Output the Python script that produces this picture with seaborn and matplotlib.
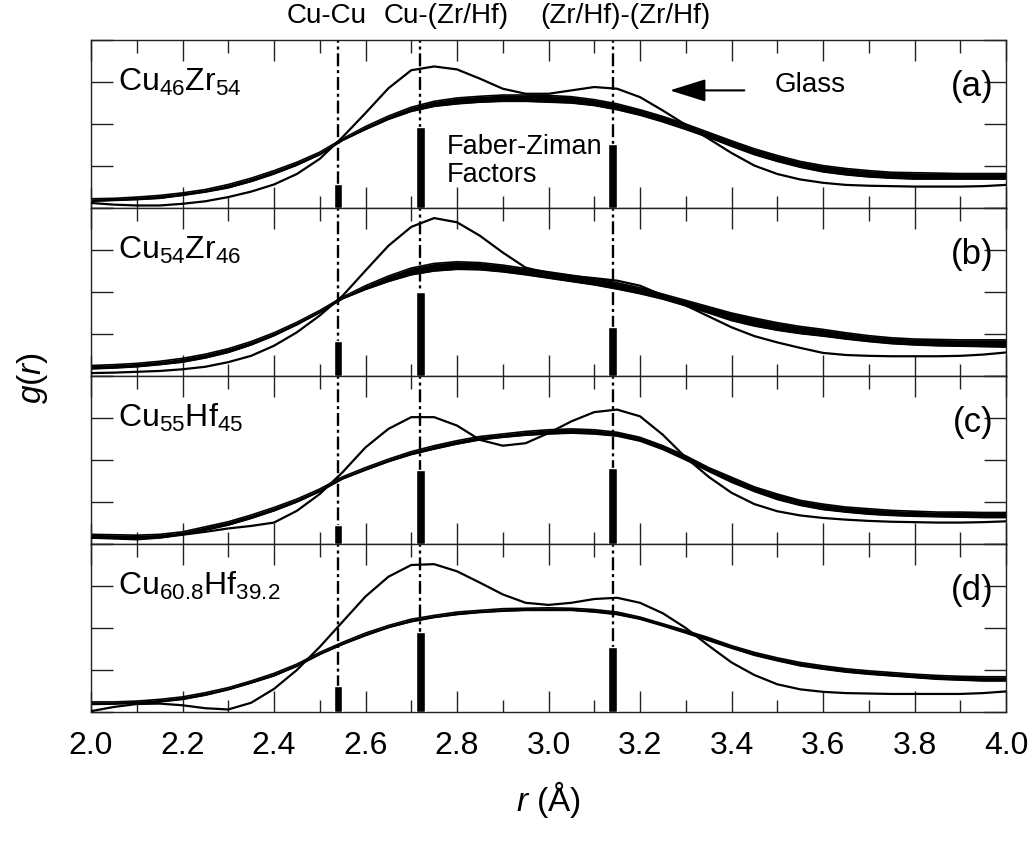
import numpy as np
import pandas as pd
import matplotlib
matplotlib.use("Agg")
import matplotlib.pyplot as plt
import seaborn as sns

# ---------------- data ----------------
r_grid = np.linspace(2.0, 4.0, 41)          # sample positions (0.05 A step)

pair_pos = [2.54, 2.72, 3.14]               # Cu-Cu, Cu-(Zr/Hf), (Zr/Hf)-(Zr/Hf)
top_labels = ["Cu-Cu", "Cu-(Zr/Hf)", "(Zr/Hf)-(Zr/Hf)"]
panel_tags = ["(a)", "(b)", "(c)", "(d)"]
compositions = [r"Cu$_{46}$Zr$_{54}$", r"Cu$_{54}$Zr$_{46}$",
                r"Cu$_{55}$Hf$_{45}$", r"Cu$_{60.8}$Hf$_{39.2}$"]

# Faber-Ziman factors (bar heights, panel units)
fz_a = [0.58, 1.92, 1.53]
fz_b = [0.84, 1.99, 1.17]
fz_c = [0.45, 1.77, 1.82]
fz_d = [0.61, 1.90, 1.54]

# crystal g(r) (thin line)
cry_a = [0.12, 0.08, 0.06, 0.06, 0.10, 0.16, 0.26, 0.39, 0.56, 0.81, 1.17, 1.69, 2.26, 2.85,
         3.28, 3.37, 3.30, 3.08, 2.84, 2.72, 2.72, 2.80, 2.88, 2.84, 2.64, 2.32, 1.98, 1.65,
         1.31, 1.01, 0.81, 0.68, 0.60, 0.55, 0.53, 0.52, 0.51, 0.51, 0.51, 0.52, 0.55]
cry_b = [0.07, 0.08, 0.10, 0.12, 0.16, 0.22, 0.33, 0.48, 0.72, 1.04, 1.44, 1.91, 2.51, 3.10,
         3.55, 3.76, 3.66, 3.34, 2.94, 2.58, 2.45, 2.38, 2.33, 2.27, 2.15, 1.92, 1.68, 1.42,
         1.16, 0.95, 0.80, 0.67, 0.55, 0.50, 0.48, 0.47, 0.47, 0.47, 0.48, 0.51, 0.56]
cry_c = [0.15, 0.13, 0.11, 0.15, 0.22, 0.29, 0.37, 0.43, 0.51, 0.79, 1.19, 1.71, 2.30, 2.74,
         3.02, 3.02, 2.82, 2.48, 2.34, 2.40, 2.64, 2.92, 3.14, 3.20, 3.04, 2.60, 2.06, 1.60,
         1.22, 0.95, 0.78, 0.68, 0.62, 0.58, 0.55, 0.53, 0.52, 0.51, 0.51, 0.52, 0.54]
cry_d = [0.02, 0.12, 0.19, 0.20, 0.16, 0.09, 0.06, 0.22, 0.55, 1.00, 1.55, 2.15, 2.75, 3.22,
         3.50, 3.52, 3.35, 3.08, 2.80, 2.60, 2.55, 2.60, 2.69, 2.72, 2.60, 2.35, 2.00, 1.58,
         1.18, 0.88, 0.66, 0.54, 0.48, 0.45, 0.44, 0.43, 0.43, 0.43, 0.43, 0.45, 0.49]

# glass g(r) bundle: upper and lower edges
glass_hi_a = [0.22, 0.23, 0.26, 0.30, 0.36, 0.44, 0.56, 0.71, 0.89, 1.09, 1.33, 1.65, 1.94, 2.19,
              2.40, 2.54, 2.62, 2.66, 2.69, 2.69, 2.68, 2.65, 2.58, 2.48, 2.34, 2.18, 2.00, 1.80,
              1.60, 1.41, 1.25, 1.11, 1.01, 0.94, 0.89, 0.85, 0.84, 0.83, 0.82, 0.82, 0.82]
glass_lo_a = [0.16, 0.18, 0.20, 0.23, 0.30, 0.38, 0.48, 0.63, 0.81, 1.02, 1.27, 1.61, 1.87, 2.11,
              2.30, 2.42, 2.48, 2.52, 2.54, 2.54, 2.52, 2.50, 2.44, 2.34, 2.21, 2.05, 1.87, 1.68,
              1.47, 1.27, 1.11, 0.97, 0.86, 0.79, 0.74, 0.71, 0.69, 0.69, 0.69, 0.69, 0.69]
glass_hi_b = [0.25, 0.27, 0.30, 0.35, 0.42, 0.52, 0.65, 0.82, 1.03, 1.28, 1.56, 1.88, 2.15, 2.38,
              2.57, 2.68, 2.72, 2.70, 2.64, 2.56, 2.48, 2.40, 2.32, 2.22, 2.10, 1.95, 1.80, 1.65,
              1.50, 1.38, 1.27, 1.18, 1.11, 1.03, 0.96, 0.91, 0.88, 0.87, 0.86, 0.86, 0.86]
glass_lo_b = [0.17, 0.19, 0.22, 0.27, 0.33, 0.43, 0.56, 0.74, 0.96, 1.22, 1.51, 1.84, 2.06, 2.25,
              2.41, 2.50, 2.54, 2.53, 2.48, 2.41, 2.33, 2.25, 2.17, 2.07, 1.96, 1.83, 1.67, 1.50,
              1.32, 1.19, 1.09, 1.01, 0.95, 0.88, 0.82, 0.77, 0.74, 0.72, 0.71, 0.70, 0.69]
glass_hi_c = [0.23, 0.22, 0.21, 0.23, 0.29, 0.41, 0.53, 0.69, 0.87, 1.07, 1.31, 1.60, 1.82, 2.02,
              2.20, 2.34, 2.46, 2.56, 2.62, 2.68, 2.72, 2.74, 2.72, 2.66, 2.54, 2.34, 2.10, 1.82,
              1.59, 1.36, 1.19, 1.04, 0.95, 0.88, 0.84, 0.80, 0.78, 0.76, 0.76, 0.75, 0.75]
glass_lo_c = [0.15, 0.14, 0.13, 0.15, 0.23, 0.33, 0.45, 0.61, 0.79, 1.00, 1.25, 1.55, 1.76, 1.96,
              2.13, 2.26, 2.38, 2.48, 2.54, 2.59, 2.62, 2.64, 2.62, 2.57, 2.45, 2.25, 2.00, 1.73,
              1.47, 1.25, 1.06, 0.92, 0.82, 0.76, 0.71, 0.68, 0.66, 0.65, 0.64, 0.63, 0.63]
glass_hi_d = [0.24, 0.24, 0.26, 0.30, 0.36, 0.46, 0.58, 0.74, 0.92, 1.14, 1.42, 1.66, 1.88, 2.06,
              2.21, 2.30, 2.38, 2.42, 2.46, 2.47, 2.48, 2.47, 2.44, 2.38, 2.26, 2.10, 1.94, 1.77,
              1.58, 1.42, 1.29, 1.18, 1.10, 1.03, 0.98, 0.94, 0.90, 0.87, 0.85, 0.84, 0.84]
glass_lo_d = [0.18, 0.19, 0.21, 0.24, 0.30, 0.40, 0.53, 0.69, 0.86, 1.09, 1.37, 1.61, 1.82, 2.01,
              2.15, 2.25, 2.32, 2.37, 2.40, 2.42, 2.42, 2.42, 2.38, 2.32, 2.21, 2.05, 1.88, 1.70,
              1.52, 1.35, 1.22, 1.10, 1.02, 0.95, 0.90, 0.86, 0.82, 0.78, 0.76, 0.74, 0.74]

x_ticks = [2.0, 2.2, 2.4, 2.6, 2.8, 3.0, 3.2, 3.4, 3.6, 3.8, 4.0]
x_minor = [2.1, 2.3, 2.5, 2.7, 2.9, 3.1, 3.3, 3.5, 3.7, 3.9]
y_ticks = [0, 1, 2, 3, 4]

# ---------------- style ----------------
sns.set_theme(style="ticks")
plt.rcParams["font.family"] = ["Liberation Sans", "DejaVu Sans"]
plt.rcParams["mathtext.fontset"] = "custom"
plt.rcParams["mathtext.rm"] = "Liberation Sans"
plt.rcParams["mathtext.it"] = "Liberation Sans:italic"
plt.rcParams["mathtext.bf"] = "Liberation Sans:bold"
plt.rcParams["text.color"] = "black"
plt.rcParams["axes.labelcolor"] = "black"
plt.rcParams["xtick.color"] = "black"
plt.rcParams["ytick.color"] = "black"
plt.rcParams["xtick.labelcolor"] = "black"

fig, axes = plt.subplots(4, 1, figsize=(10.32, 8.42), dpi=100, sharex=True)
fig.subplots_adjust(left=91/1032, right=1006/1032, top=1-40/842, bottom=1-712/842, hspace=0)

crys = [cry_a, cry_b, cry_c, cry_d]
his = [glass_hi_a, glass_hi_b, glass_hi_c, glass_hi_d]
los = [glass_lo_a, glass_lo_b, glass_lo_c, glass_lo_d]
fzs = [fz_a, fz_b, fz_c, fz_d]

for i, ax in enumerate(axes):
    df = pd.DataFrame({"r": r_grid, "cry": crys[i], "hi": his[i], "lo": los[i]})
    ax.fill_between(df["r"], df["lo"], df["hi"], color="black", lw=0, zorder=2)
    sns.lineplot(data=df, x="r", y="hi", ax=ax, color="black", lw=1.2, estimator=None,
                 sort=False, legend=False, zorder=2)
    sns.lineplot(data=df, x="r", y="lo", ax=ax, color="black", lw=1.2, estimator=None,
                 sort=False, legend=False, zorder=2)
    sns.lineplot(data=df, x="r", y="cry", ax=ax, color="black", lw=1.6, estimator=None,
                 sort=False, legend=False, zorder=3)
    for p in pair_pos:
        ln = ax.axvline(p, color="black", lw=1.7, zorder=1)
        ln.set_dashes([5.5, 1.6, 1.3, 1.6])
    ax.bar(pair_pos, fzs[i], width=0.018, color="black", zorder=4)

    ax.set_xlim(2.0, 4.0)
    ax.set_ylim(0, 4)
    ax.set_yticks(y_ticks)
    ax.set_yticklabels([])
    ax.set_ylabel("")
    ax.set_xlabel("")
    ax.set_xticks(x_ticks)
    ax.set_xticks(x_minor, minor=True)
    ax.tick_params(which="major", direction="in", length=15, width=1.0, top=True, right=True,
                   color="#222222")
    ax.tick_params(which="minor", direction="in", length=9, width=1.0, top=True, right=True,
                   color="#222222")
    ax.tick_params(axis="y", which="major", length=16)
    for s in ax.spines.values():
        s.set_color("#222222")
        s.set_linewidth(1.0)

    ax.text(2.06, 3.0, compositions[i], fontsize=23, va="center", ha="left", color="black")
    ax.text(0.986, 2.9, panel_tags[i], fontsize=25, va="center", ha="right",
            transform=ax.get_yaxis_transform(), color="black")

axes[-1].set_xticklabels([f"{t:.1f}" for t in x_ticks], fontsize=23, color="black")
axes[-1].tick_params(axis="x", which="major", pad=14)

# annotations in panel (a)
axa = axes[0]
axa.annotate("", xy=(3.259, 2.80), xytext=(3.434, 2.80),
             arrowprops=dict(arrowstyle="-|>,head_length=0.8,head_width=0.25",
                             color="black", lw=1.5, mutation_scale=28))
axa.text(3.572, 2.92, "Glass", fontsize=20, ha="center", va="center", color="black")
axa.text(2.778, 1.13, "Faber-Ziman\nFactors", fontsize=19.5, ha="left", va="center",
         linespacing=1.1, color="black")

# top labels
for x_px, lab in zip([327, 446, 625], top_labels):
    fig.text(x_px/1032, 1-16/842, lab, fontsize=20, ha="center", va="center", color="black")

fig.text(548/1032, 1-800/842, r"$r$ (Å)", fontsize=24, ha="center", va="center", color="black")
fig.text(32/1032, 1-378/842, r"$g$($r$)", fontsize=24, ha="center", va="center",
         rotation=90, color="black")

fig.savefig("out.png", dpi=100)
